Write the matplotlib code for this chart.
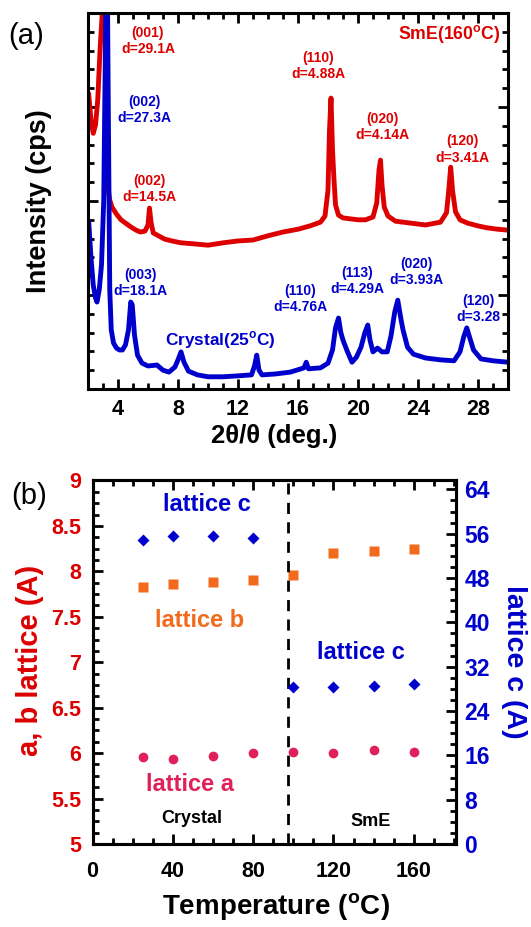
import matplotlib
matplotlib.use("Agg")
import matplotlib.pyplot as plt
from matplotlib.ticker import MultipleLocator, FormatStrFormatter

plt.rcParams['font.family'] = ['Liberation Sans', 'DejaVu Sans']
plt.rcParams['font.weight'] = 'bold'
plt.rcParams['mathtext.fontset'] = 'custom'
plt.rcParams['mathtext.rm'] = 'Liberation Sans'
plt.rcParams['mathtext.bf'] = 'Liberation Sans:bold'

RED = '#dd0000'
BLUE = '#0000cc'
ORANGE = '#f26b1d'
PINK = '#e0205a'
W, H = 531, 927

# (a) XRD patterns (counts, arbitrary scale)
smE_2theta = [2.05, 2.2, 2.35, 2.5, 2.65, 2.8, 2.95, 3.1, 3.35, 3.45, 3.6, 3.9, 4.2, 4.5,
              4.85, 5.2, 5.5, 5.8, 6.0, 6.1, 6.2, 6.35, 6.7, 7.1, 7.6, 8.2, 9.0, 10.0,
              11.0, 12.0, 13.0, 14.0, 15.0, 16.0, 16.8, 17.5, 17.8, 18.0, 18.1, 18.2,
              18.3, 18.4, 18.5, 18.7, 19.0, 19.5, 20.0, 20.5, 21.0, 21.25, 21.4, 21.5,
              21.6, 21.75, 22.0, 22.5, 23.5, 24.5, 25.5, 25.9, 26.05, 26.18, 26.3, 26.5,
              26.8, 27.3, 28.0, 28.6, 29.3, 30.0]
smE_counts = [3130, 2860, 2720, 2810, 3075, 3600, 4000, 4700, 2120, 2010, 1935, 1860,
              1800, 1765, 1725, 1690, 1670, 1680, 1745, 1925, 1775, 1660, 1630, 1595,
              1575, 1555, 1545, 1530, 1555, 1575, 1585, 1630, 1670, 1700, 1735, 1775,
              1840, 2115, 2755, 3095, 2545, 2225, 1960, 1850, 1820, 1810, 1800, 1800,
              1830, 1980, 2330, 2435, 2170, 1935, 1840, 1785, 1765, 1745, 1775, 1875,
              2115, 2360, 2115, 1885, 1800, 1765, 1735, 1715, 1700, 1690]

cryst_2theta = [2.05, 2.2, 2.35, 2.5, 2.6, 2.75, 2.9, 3.05, 3.15, 3.25, 3.35, 3.45, 3.55,
                3.7, 3.9, 4.1, 4.3, 4.5, 4.7, 4.85, 4.95, 5.1, 5.3, 5.6, 6.0, 6.6, 7.0,
                7.4, 7.8, 8.0, 8.2, 8.4, 8.7, 9.3, 10.0, 11.0, 12.0, 12.9, 13.1, 13.25,
                13.4, 13.6, 14.5, 15.5, 16.4, 16.55, 16.7, 17.5, 18.0, 18.3, 18.5, 18.7,
                18.85, 19.0, 19.3, 19.6, 19.9, 20.2, 20.45, 20.65, 20.8, 21.0, 21.3, 21.6,
                21.95, 22.2, 22.45, 22.65, 22.85, 23.0, 23.3, 23.7, 24.5, 25.5, 26.4, 26.8,
                27.05, 27.25, 27.45, 27.7, 28.2, 29.0, 30.0]
cryst_counts = [1775, 1395, 1105, 970, 925, 1055, 1320, 2010, 3500, 5200, 3075, 1055,
                630, 490, 435, 415, 415, 470, 630, 925, 895, 575, 360, 275, 245, 255,
                200, 180, 235, 310, 395, 285, 190, 150, 130, 130, 140, 150, 245, 360,
                200, 150, 160, 180, 225, 285, 215, 225, 275, 415, 650, 755, 605, 520,
                395, 285, 340, 445, 595, 680, 520, 395, 435, 395, 395, 565, 820, 945,
                755, 630, 445, 370, 330, 310, 300, 395, 555, 650, 545, 415, 320, 300, 285]

# (b) lattice parameters vs temperature
temp = [25, 40, 60, 80, 100, 120, 140, 160]
lat_a = [5.955, 5.94, 5.97, 6.0, 6.015, 6.0, 6.03, 6.015]
lat_b = [7.83, 7.86, 7.885, 7.91, 7.96, 8.20, 8.22, 8.25]
lat_c = [54.9, 55.5, 55.5, 55.2, 28.3, 28.3, 28.6, 28.9]
transition_T = 97.5


def style_axis(ax, width=2.2):
    for s in ax.spines.values():
        s.set_linewidth(width)
    ax.tick_params(which='both', direction='in', width=2, top=True)
    ax.tick_params(which='major', length=7)
    ax.tick_params(which='minor', length=4)


def put(txt, px, py, **kw):
    # place a text by its pixel centre in the picture
    kw.setdefault('ha', 'center')
    kw.setdefault('va', 'center')
    kw.setdefault('fontweight', 'bold')
    fig.text(px / W, 1 - py / H, txt, **kw)


fig = plt.figure(figsize=(W / 100, H / 100), dpi=100)

# ---------- panel (a) ----------
ax1 = fig.add_axes([88 / W, 1 - 389 / H, 420 / W, 376 / H])
ax1.plot(smE_2theta, smE_counts, color=RED, lw=3.5)
ax1.plot(cryst_2theta, cryst_counts, color=BLUE, lw=3.5)
ax1.set_xlim(2, 30)
ax1.set_ylim(0, 4000)
ax1.xaxis.set_major_locator(MultipleLocator(4))
ax1.xaxis.set_minor_locator(MultipleLocator(1))
ax1.yaxis.set_major_locator(MultipleLocator(1000))
ax1.yaxis.set_minor_locator(MultipleLocator(200))
style_axis(ax1)
ax1.tick_params(which='both', right=True, labelleft=False)
ax1.tick_params(axis='x', labelsize=15.5, pad=7)
put('2θ/θ (deg.)', 274, 436, fontsize=18.5)
put('Intensity (cps)', 39, 201, fontsize=19.5, rotation=90)
put('(a)', 26, 35.6, fontsize=21, fontweight='normal')

peak_labels = [
    ('(001)\nd=29.1A', 148, 41, RED),
    ('(002)\nd=27.3A', 144.6, 110, BLUE),
    ('(002)\nd=14.5A', 149.7, 189, RED),
    ('(110)\nd=4.88A', 318, 66, RED),
    ('(020)\nd=4.14A', 382.7, 127, RED),
    ('(120)\nd=3.41A', 462, 149.5, RED),
    ('(003)\nd=18.1A', 140.5, 283, BLUE),
    ('(110)\nd=4.76A', 300.4, 299, BLUE),
    ('(113)\nd=4.29A', 357, 281, BLUE),
    ('(020)\nd=3.93A', 416.5, 272, BLUE),
    ('(120)\nd=3.28', 478, 309, BLUE),
]
for txt, px, py, c in peak_labels:
    put(txt, px, py, color=c, fontsize=10, linespacing=1.2)

put(r'SmE(160$^{\mathbf{o}}$C)', 500.5, 34, color=RED, fontsize=12.7, ha='right')
put(r'Crystal(25$^{\mathbf{o}}$C)', 220, 340, color=BLUE, fontsize=12.4)

# ---------- panel (b) ----------
ax2 = fig.add_axes([92.5 / W, 1 - 844 / H, 363.5 / W, 363.5 / H])
ax3 = ax2.twinx()
ax2.plot(temp, lat_a, 'o', color=PINK, ms=7, mec='none')
ax2.plot(temp, lat_b, 's', color=ORANGE, ms=7.5, mec='none')
ax3.plot(temp, lat_c, 'D', color=BLUE, ms=6.5, mec='none')
ax2.axvline(transition_T, color='black', lw=2, ls=(0, (4, 3)))

ax2.set_xlim(0, 181)
ax2.set_ylim(5, 9)
ax3.set_ylim(0, 65.6)
ax2.xaxis.set_major_locator(MultipleLocator(40))
ax2.xaxis.set_minor_locator(MultipleLocator(10))
ax2.yaxis.set_major_locator(MultipleLocator(0.5))
ax2.yaxis.set_minor_locator(MultipleLocator(0.125))
ax2.yaxis.set_major_formatter(FormatStrFormatter('%g'))
ax3.yaxis.set_major_locator(MultipleLocator(8))
ax3.yaxis.set_minor_locator(MultipleLocator(2))
style_axis(ax2)
style_axis(ax3)
ax2.tick_params(axis='x', labelsize=15.5, pad=12)
ax2.tick_params(axis='y', labelsize=15.5, labelcolor=RED, pad=8)
ax3.tick_params(axis='y', labelsize=16.5, labelcolor=BLUE, pad=6)

put(r'Temperature ($^{\mathbf{o}}$C)', 276, 907, fontsize=20)
put('a, b lattice (A)', 30.5, 660, fontsize=21, color=RED, rotation=90)
put('lattice c (A)', 514, 662, fontsize=20.5, color=BLUE, rotation=270)
put('(b)', 28.8, 495.7, fontsize=21, fontweight='normal')

b_labels = [
    ('lattice c', 206.6, 504.2, BLUE, 17),
    ('lattice b', 199.8, 620.3, ORANGE, 17),
    ('lattice c', 360.6, 652.5, BLUE, 17),
    ('lattice a', 189.6, 784.8, PINK, 17),
    ('Crystal', 191.3, 818.7, 'black', 13),
    ('SmE', 370.8, 822, 'black', 13),
]
for txt, px, py, c, fs in b_labels:
    put(txt, px, py, color=c, fontsize=fs)

fig.savefig('out.png', dpi=100)
